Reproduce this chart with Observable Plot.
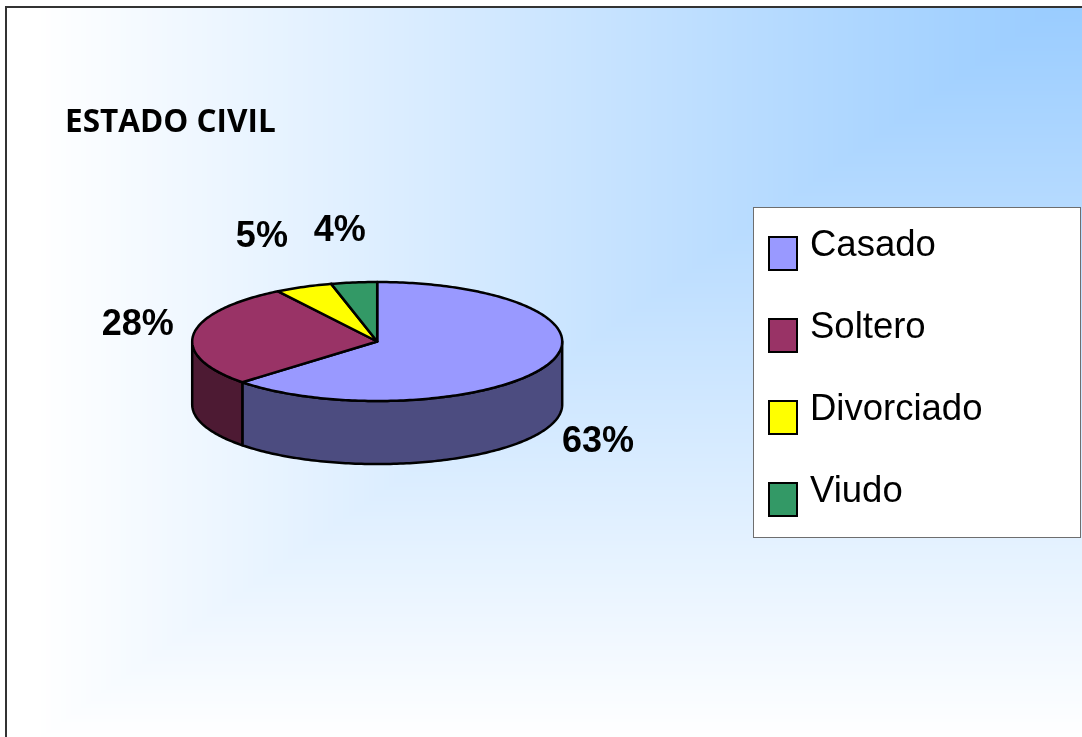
<!DOCTYPE html>
<html>
<head>
<meta charset="utf-8">
<script src="https://cdn.jsdelivr.net/npm/d3@7"></script>
<script src="https://cdn.jsdelivr.net/npm/@observablehq/plot@0.6"></script>
<style>
  html, body { margin: 0; padding: 0; background: #ffffff; }
  #wrap { position: relative; width: 1082px; height: 737px; overflow: hidden; }
  #bg { position: absolute; left: 0; top: 0; }
  #frame { position: absolute; left: 5px; top: 6px; width: 1100px; height: 760px;
           border-left: 2px solid #333; border-top: 2px solid #333; box-sizing: border-box; }
  #chart { position: absolute; left: 0; top: 0; }
  #chart svg { background: transparent !important; }
  #title { position: absolute; left: 65px; top: 104px; font-family: "Open Sans", sans-serif;
           font-weight: 700; font-size: 31.5px; line-height: 31.5px; color: #000; white-space: nowrap; }
  #legend { position: absolute; left: 753px; top: 207px; width: 328px; height: 331px;
            background: #fff; border: 1px solid #6e6e6e; box-sizing: border-box; }
  .item { position: absolute; left: 14px; }
  .sw { position: absolute; left: 0; width: 30px; height: 35px; border: 2px solid #000; box-sizing: border-box; }
  .lt { position: absolute; left: 42px; font-family: "Liberation Sans", Arial, sans-serif; font-size: 36.5px;
        line-height: 36px; color: #000; white-space: nowrap; }
</style>
</head>
<body>
<div id="wrap">
  <canvas id="bg" width="1082" height="737"></canvas>
  <div id="frame"></div>
  <div id="chart"></div>
  <div id="title"></div>
  <div id="legend"></div>
</div>
<script>
// ---- data ----
const chartTitle = "ESTADO CIVIL";
const categories = ["Casado", "Soltero", "Divorciado", "Viudo"];
const values = [63, 28, 5, 4];
const percentLabels = ["63%", "28%", "5%", "4%"];
const topColors = ["#9999FF", "#993366", "#FFFF00", "#339966"];
const sideColors = ["#4C4C80", "#4D1A33", "#808000", "#1A4D33"];

// ---- background: rectangular gradient from the top-right corner ----
(function () {
  const c = document.getElementById("bg");
  const ctx = c.getContext("2d");
  const img = ctx.createImageData(1082, 737);
  const Cx = 1065, W = 1030, H = 740;
  const c0 = [153, 204, 255], c1 = [255, 255, 255];
  for (let y = 0; y < 737; y++) {
    for (let x = 0; x < 1082; x++) {
      let t = Math.max((Cx - x) / W, y / H);
      t = Math.max(0, Math.min(1, t));
      const i = (y * 1082 + x) * 4;
      const inside = x >= 6 && y >= 7;
      img.data[i] = inside ? c0[0] + (c1[0] - c0[0]) * t : 255;
      img.data[i + 1] = inside ? c0[1] + (c1[1] - c0[1]) * t : 255;
      img.data[i + 2] = inside ? c0[2] + (c1[2] - c0[2]) * t : 255;
      img.data[i + 3] = 255;
    }
  }
  ctx.putImageData(img, 0, 0);
})();

// ---- pie geometry (unit ellipse; depth in y-units) ----
const depth = 1.06;
const total = d3.sum(values);
const rad = (deg) => deg * Math.PI / 180;
const px = (deg) => Math.sin(rad(deg));
const py = (deg) => Math.cos(rad(deg));

let acc = 0;
const slices = categories.map((cat, i) => {
  const a0 = acc / total * 360;
  acc += values[i];
  const a1 = acc / total * 360;
  return {cat, i, a0, a1, mid: (a0 + a1) / 2};
});

function arc(a0, a1) {
  const n = Math.max(2, Math.ceil((a1 - a0) / 1));
  return d3.range(n + 1).map(k => a0 + (a1 - a0) * k / n);
}

const topPts = [];
const sidePts = [];
for (const s of slices) {
  topPts.push({id: "t" + s.i, x: 0, y: 0, fill: topColors[s.i]});
  for (const a of arc(s.a0, s.a1)) topPts.push({id: "t" + s.i, x: px(a), y: py(a), fill: topColors[s.i]});
  const b0 = Math.max(s.a0, 90), b1 = Math.min(s.a1, 270);
  if (b1 > b0) {
    const angs = arc(b0, b1);
    for (const a of angs) sidePts.push({id: "s" + s.i, x: px(a), y: py(a), fill: sideColors[s.i]});
    for (const a of angs.slice().reverse()) sidePts.push({id: "s" + s.i, x: px(a), y: py(a) - depth, fill: sideColors[s.i]});
  }
}

// label placement outside the pie, pushed further out near the top
const labelPts = slices.map(s => {
  const c = py(s.mid);
  const kx = 1.3 + 0.32 * Math.max(c, 0) ** 2;
  const ky = 1.9 + 0.6 * (1 - Math.abs(c));
  return {
    x: kx * px(s.mid),
    y: ky * c - (c < 0 ? depth * 0.72 : 0),
    text: percentLabels[s.i]
  };
});

const cx = 376.7, cy = 341, rx = 185, ry = 59.5;
const plot = Plot.plot({
  width: 1082,
  height: 737,
  margin: 0,
  style: {background: "transparent", overflow: "visible"},
  x: {domain: [-1, 1], range: [cx - rx, cx + rx], axis: null},
  y: {domain: [-1, 1], range: [cy + ry, cy - ry], axis: null},
  color: {type: "identity"},
  marks: [
    Plot.line(sidePts, {x: "x", y: "y", z: "id", fill: "fill", stroke: "#000", strokeWidth: 2.5,
      strokeLinejoin: "round", curve: "linear-closed"}),
    Plot.line(topPts, {x: "x", y: "y", z: "id", fill: "fill", stroke: "#000", strokeWidth: 2.5,
      strokeLinejoin: "round", curve: "linear-closed"}),
    Plot.text(labelPts, {x: "x", y: "y", text: "text", fontSize: 36, fontWeight: "bold",
      fontFamily: "'Liberation Sans', Arial, sans-serif", fill: "#000"})
  ]
});
document.getElementById("chart").appendChild(plot);

// ---- title ----
document.getElementById("title").textContent = chartTitle;

// ---- legend ----
const legend = document.getElementById("legend");
categories.forEach((cat, i) => {
  const item = document.createElement("div");
  item.className = "item";
  item.style.top = (28 + i * 82) + "px";
  const sw = document.createElement("div");
  sw.className = "sw";
  sw.style.top = "0px";
  sw.style.background = topColors[i];
  const lt = document.createElement("div");
  lt.className = "lt";
  lt.style.top = "-10px";
  lt.textContent = cat;
  item.appendChild(sw);
  item.appendChild(lt);
  legend.appendChild(item);
});
</script>
</body>
</html>
